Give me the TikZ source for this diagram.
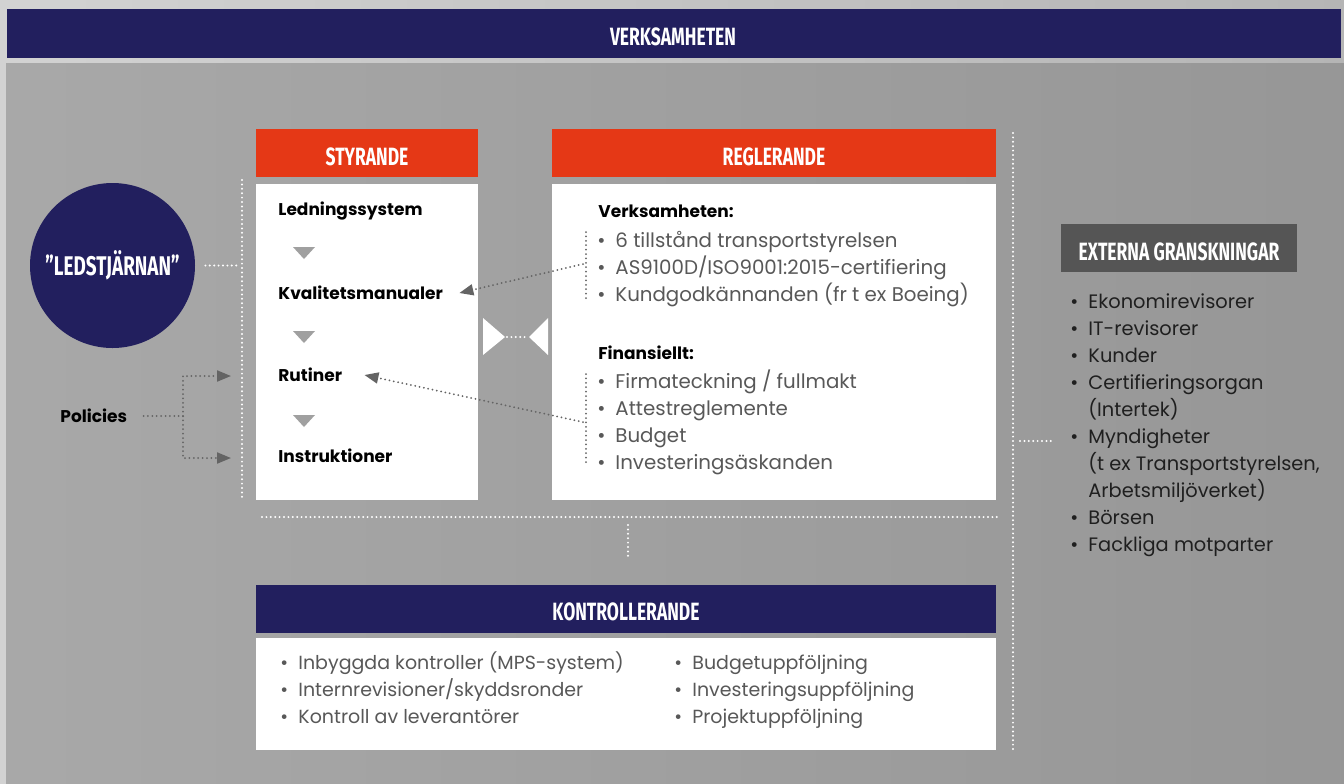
\documentclass[tikz,border=0pt]{standalone}
\usepackage{fontspec}
\setmainfont{Poppins}
\newfontfamily\headfont[FakeStretch=0.7]{Fira Sans}
\usepackage{tikz}
\usetikzlibrary{arrows.meta,positioning}
\definecolor{navy}{RGB}{34, 31, 94}
\definecolor{signal}{RGB}{229, 56, 22}
\definecolor{extgray}{RGB}{85, 85, 85}
\definecolor{bodytext}{RGB}{88, 88, 88}
\definecolor{tipgray}{RGB}{100, 100, 100}
\definecolor{trigray}{RGB}{160, 160, 160}
\newcommand{\blt}{\makebox[9pt][l]{\textbullet}}
\newcommand{\gap}{\hspace*{9pt}}

\tikzset{
  headtext/.style={text=white, inner sep=0pt, font=\headfont\bfseries\fontsize{12.5}{12.5}\selectfont},
  item/.style={anchor=west, inner sep=0pt, text=black, font=\bfseries\fontsize{8.5}{8.5}\selectfont},
  bullets/.style={anchor=north west, inner sep=0pt, align=left, text=bodytext, font=\fontsize{9.9}{13.5}\selectfont},
  wdots/.style={white, line width=1.1pt, dash pattern=on 0pt off 2.2pt, line cap=round},
  gdots/.style={tipgray, line width=1pt, dash pattern=on 0pt off 2.2pt, line cap=round},
  garrow/.style={gdots, -{Triangle[length=7pt, width=5.5pt]}}
}

\begin{document}
\begin{tikzpicture}[x=0.5pt, y=-0.5pt]
            \useasboundingbox (0,0) rectangle (1344,783);
            % Background and top banner
            \shade[left color=gray!35, right color=gray!58] (0,0) rectangle (1344,783);
            \shade[shading angle=60, left color=gray!68, right color=gray!82] (6,63) rectangle (1344,783);
            \fill[navy] (7,9) rectangle (1341,58);
            \node[headtext] (verksamhet) at (673,37) {VERKSAMHETEN};
            
            % Ledstjarnan and policies
            \node[circle, fill=navy, minimum size=82.5pt, inner sep=0pt] (ledstjarna) at (112.5,265.5) {};
            \node[headtext, font=\headfont\bfseries\fontsize{13.5}{13.5}\selectfont] at (ledstjarna) {”LEDSTJÄRNAN”};
            \coordinate (vtop) at (242,180);
            \coordinate (vbot) at (242,498);
            \draw[wdots] (vtop) -- (vbot);
            \draw[wdots] ([xshift=5pt]ledstjarna.east) -- ([xshift=-1.5pt]ledstjarna.east -| vtop);
            
            \node[item] (policies) at (60,416) {Policies};
            \coordinate (pfork) at (183,416);
            \coordinate (pin1) at (231,376);
            \coordinate (pin2) at (231,458);
            \draw[gdots] ([xshift=8pt]policies.east) -- (pfork);
            \draw[garrow] (pfork) |- (pin1);
            \draw[garrow] (pfork) |- (pin2);
            
            % Styrande
            \fill[signal] (256,129) rectangle (478,177);
            \node[headtext] (styr) at (367,157) {STYRANDE};
            \fill[white] (256,184) rectangle (478,500);
            \node[item] (ledn) at (278,211) {Ledningssystem};
            \node[item] (kval) at (278,293) {Kvalitetsmanualer};
            \node[item] (rutin) at (278,375) {Rutiner};
            \node[item] (instr) at (278,456) {Instruktioner};
            \foreach \y in {247,331,415}
                \fill[trigray] (293,\y) -- ++(22,0) -- ++(-11,12) -- cycle;
            
            % Reglerande
            \fill[signal] (552,129) rectangle (996,177);
            \node[headtext] (regl) at (774,157) {REGLERANDE};
            \fill[white] (552,184) rectangle (996,500);
            \node[item] (verks) at (598,211) {Verksamheten:};
            \node[bullets] (vlist) at (597,228) {\strut\blt 6 tillstånd transportstyrelsen\\
                \blt AS9100D/ISO9001:2015-certifiering\\
                \blt Kundgodkännanden (fr t ex Boeing)};
            \node[item] (finans) at (598,353) {Finansiellt:};
            \node[bullets] (flist) at (597,369) {\strut\blt Firmateckning / fullmakt\\
                \blt Attestreglemente\\
                \blt Budget\\
                \blt Investeringsäskanden};
            
            % Brackets and arrows to Styrande
            \draw[gdots] (586,232) -- (586,298);
            \draw[gdots] (586,374) -- (586,466);
            \coordinate (vbrk) at (583,264);
            \coordinate (fbrk) at (583,422);
            \draw[garrow] (vbrk) -- ([xshift=8pt]kval.east);
            \draw[garrow] (fbrk) -- ([xshift=11pt]rutin.east);
            
            % Bow tie between the boxes
            \coordinate (bowl) at (507,337);
            \coordinate (bowr) at (527,337);
            \fill[white] (483,318) -- (505,337) -- (483,355) -- cycle;
            \fill[white] (548,318) -- (529,337) -- (548,355) -- cycle;
            \draw[wdots] (bowl) -- (bowr);
            
            % Links down to Kontrollerande
            \coordinate (hleft) at (262,517);
            \coordinate (hright) at (997,517);
            \draw[wdots] (hleft) -- (hright);
            \coordinate (ktop) at (628,525);
            \coordinate (kbot) at (628,560);
            \draw[wdots] (ktop) -- (kbot);
            
            % Kontrollerande
            \fill[navy] (256,585) rectangle (996,633);
            \node[headtext] (kontr) at (626,612) {KONTROLLERANDE};
            \fill[white] (256,638) rectangle (996,750);
            \node[bullets, font=\fontsize{9.5}{13.5}\selectfont] (klist1) at (280,650) {\strut\blt Inbyggda kontroller (MPS-system)\\
                \blt Internrevisioner/skyddsronder\\
                \blt Kontroll av leverantörer};
            \node[bullets, font=\fontsize{9.5}{13.5}\selectfont] (klist2) at (674,650) {\strut\blt Budgetuppföljning\\
                \blt Investeringsuppföljning\\
                \blt Projektuppföljning};
            
            % Externa granskningar
            \coordinate (etop) at (1013,133);
            \coordinate (ebot) at (1013,750);
            \draw[wdots] (etop) -- (ebot);
            \coordinate (elink) at (1052,441);
            \draw[wdots] (elink -| etop) ++(7,0) -- (elink);
            \fill[extgray] (1061,224) rectangle (1297,272);
            \node[headtext] (extern) at (1179,252) {EXTERNA GRANSKNINGAR};
            \node[bullets, text=black!88, font=\fontsize{9.7}{13.5}\selectfont] (elist) at (1070,289) {\strut\blt Ekonomirevisorer\\
                \blt IT-revisorer\\
                \blt Kunder\\
                \blt Certifieringsorgan\\
                \gap (Intertek)\\
                \blt Myndigheter\\
                \gap (t ex Transportstyrelsen,\\
                \gap Arbetsmiljöverket)\\
                \blt Börsen\\
                \blt Fackliga motparter};
        \end{tikzpicture}
\end{document}
